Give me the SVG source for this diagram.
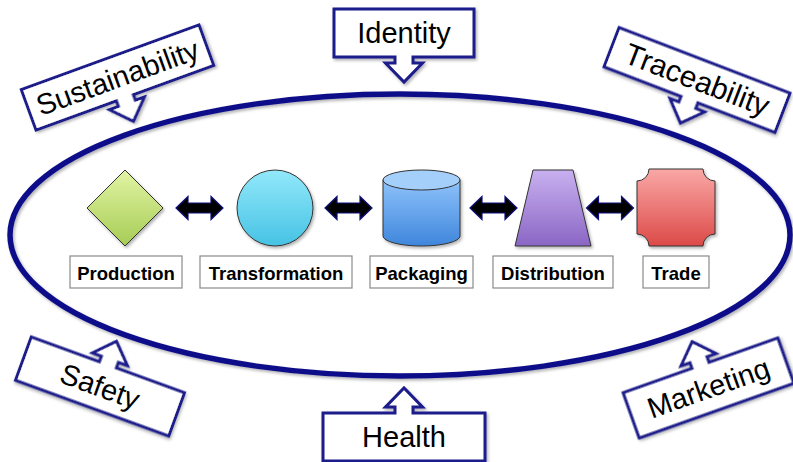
<svg xmlns="http://www.w3.org/2000/svg" width="793" height="462" viewBox="0 0 793 462">
<defs>
  <linearGradient id="gGreen" x1="0" y1="0" x2="0" y2="1"><stop offset="0" stop-color="#e2f4a4"/><stop offset="1" stop-color="#a6cc55"/></linearGradient>
  <linearGradient id="gCyan" x1="0" y1="0" x2="0" y2="1"><stop offset="0" stop-color="#92e8fa"/><stop offset="1" stop-color="#46c2e4"/></linearGradient>
  <linearGradient id="gBlue" x1="0" y1="0" x2="0" y2="1"><stop offset="0" stop-color="#8ec2fa"/><stop offset="1" stop-color="#3f86dc"/></linearGradient>
  <linearGradient id="gPurple" x1="0" y1="0" x2="0" y2="1"><stop offset="0" stop-color="#c8b0f0"/><stop offset="1" stop-color="#8a66c4"/></linearGradient>
  <linearGradient id="gRed" x1="0" y1="0" x2="0" y2="1"><stop offset="0" stop-color="#f9a8a6"/><stop offset="1" stop-color="#dc4a48"/></linearGradient>
  <filter id="shadow" x="-20%" y="-20%" width="140%" height="140%">
    <feDropShadow dx="1.5" dy="2" stdDeviation="1.5" flood-color="#000" flood-opacity="0.3"/>
  </filter>
  <path id="dblArrow" d="M-23.5,0 L-11.5,-11.5 V-5 H11.5 V-11.5 L23.5,0 L11.5,11.5 V5 H-11.5 V11.5 Z"/>
</defs>
<style>
  .callout { fill: #fff; stroke: #1a1a8a; stroke-width: 3; stroke-linejoin: miter; }
  .ctext { font-family: "Liberation Sans", Arial, sans-serif; font-size: 29px; fill: #000; text-anchor: middle; }
  .shape { stroke: #333; stroke-width: 1; }
  .lbox { fill: #fff; stroke: #8a8a8a; stroke-width: 1.2; }
  .ltext { font-family: "Liberation Sans", Arial, sans-serif; font-size: 18.5px; font-weight: bold; fill: #000; text-anchor: middle; }
  .arrow { fill: #000; stroke: #10107a; stroke-width: 1.2; }
</style>

<g id="ring">
  <ellipse cx="400" cy="235" rx="390" ry="141" fill="none" stroke="#11118a" stroke-width="5.5" filter="url(#shadow)"/>
</g>

<g id="connectors">
  <use href="#dblArrow" class="arrow" transform="translate(199.5,208)"/>
  <use href="#dblArrow" class="arrow" transform="translate(348.5,208)"/>
  <use href="#dblArrow" class="arrow" transform="translate(493.5,208)"/>
  <use href="#dblArrow" class="arrow" transform="translate(610,208)"/>
</g>

<g id="production">
  <polygon class="shape" points="125,170 163,208 125,246 87,208" fill="url(#gGreen)" filter="url(#shadow)"/>
  <rect class="lbox" x="70" y="256" width="112" height="32"/>
  <text class="ltext" x="126" y="280">Production</text>
</g>

<g id="transformation">
  <circle class="shape" cx="275" cy="208" r="38" fill="url(#gCyan)" filter="url(#shadow)"/>
  <rect class="lbox" x="200" y="256" width="152" height="32"/>
  <text class="ltext" x="276" y="280">Transformation</text>
</g>

<g id="packaging">
  <g filter="url(#shadow)">
    <path class="shape" d="M383,180 V236 A38.5,10 0 0 0 460,236 V180 Z" fill="url(#gBlue)"/>
    <ellipse class="shape" cx="421.5" cy="180" rx="38.5" ry="10" fill="#a4cffb"/>
  </g>
  <rect class="lbox" x="370" y="256" width="103" height="32"/>
  <text class="ltext" x="421.5" y="280">Packaging</text>
</g>

<g id="distribution">
  <polygon class="shape" points="533,170 573,170 591,246 515,246" fill="url(#gPurple)" filter="url(#shadow)"/>
  <rect class="lbox" x="493" y="256" width="120" height="32"/>
  <text class="ltext" x="553" y="280">Distribution</text>
</g>

<g id="trade">
  <path class="shape" d="M649,169 H703 A12,12 0 0 0 715,181 V234 A12,12 0 0 0 703,246 H649 A12,12 0 0 0 637,234 V181 A12,12 0 0 0 649,169 Z" fill="url(#gRed)" filter="url(#shadow)"/>
  <rect class="lbox" x="643" y="256" width="66" height="32"/>
  <text class="ltext" x="676" y="280">Trade</text>
</g>

<g id="identity" transform="translate(404,33)">
  <path class="callout" filter="url(#shadow)" d="M-70,-24 H70 V24 H9 V30 H18.5 L0,49 L-18.5,30 H-9 V24 H-70 Z"/>
  <text class="ctext" x="0" y="10">Identity</text>
</g>

<g id="health" transform="translate(404,437)">
  <path class="callout" filter="url(#shadow)" d="M-81,24 H81 V-24 H9 V-30 H18.5 L0,-49 L-18.5,-30 H-9 V-24 H-81 Z"/>
  <text class="ctext" x="0" y="10">Health</text>
</g>

<g id="sustainability" transform="translate(117.5,77.5) rotate(-20)">
  <path class="callout" filter="url(#shadow)" d="M-94.5,-21.5 H94.5 V21.5 H9 V27.5 H18.5 L0,46.5 L-18.5,27.5 H-9 V21.5 H-94.5 Z"/>
  <text class="ctext" x="0" y="10">Sustainability</text>
</g>

<g id="traceability" transform="translate(697,80) rotate(21)">
  <path class="callout" filter="url(#shadow)" d="M-91.5,-21 H91.5 V21 H9 V27 H18.5 L0,46 L-18.5,27 H-9 V21 H-91.5 Z"/>
  <text class="ctext" x="0" y="10" style="font-size:30px">Traceability</text>
</g>

<g id="safety" transform="translate(100,386.5) rotate(20)">
  <path class="callout" filter="url(#shadow)" d="M-81.5,23 H81.5 V-23 H9 V-29 H18.5 L0,-48 L-18.5,-29 H-9 V-23 H-81.5 Z"/>
  <text class="ctext" x="0" y="10">Safety</text>
</g>

<g id="marketing" transform="translate(708.5,388) rotate(-19.5)">
  <path class="callout" filter="url(#shadow)" d="M-82,24 H82 V-24 H9 V-30 H18.5 L0,-49 L-18.5,-30 H-9 V-24 H-82 Z"/>
  <text class="ctext" x="0" y="10">Marketing</text>
</g>
</svg>
